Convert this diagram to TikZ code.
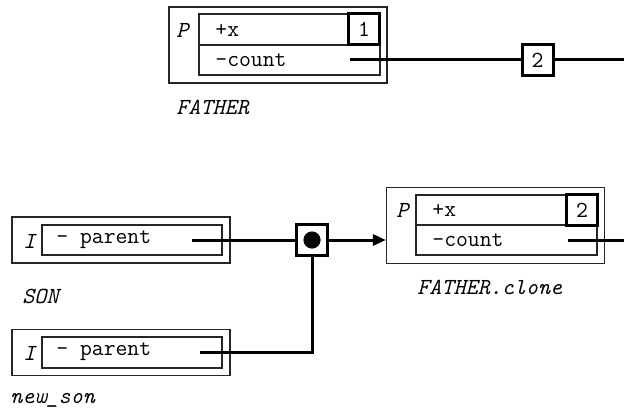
\documentclass[tikz,border=0pt]{standalone}
\usetikzlibrary{arrows.meta}
\tikzset{every node/.style={inner sep=0pt, font=\ttfamily\fontsize{11.5}{13}\selectfont},
  frame/.style={draw=black!85, line width=0.6pt},
  objframe/.style={frame, minimum width=109pt, minimum height=38pt},
  instframe/.style={frame, minimum width=109pt, minimum height=23pt},
  wire/.style={line width=1.5pt},
  numbox/.style={draw, line width=1.5pt, fill=white, minimum width=15.5pt, minimum height=15.5pt},
  txt/.style={anchor=west},
  lbl/.style={anchor=west, font=\ttfamily\itshape\fontsize{11.5}{13}\selectfont}}

\begin{document}
\begin{tikzpicture}[x=0.5pt,y=-0.5pt]
  \useasboundingbox (0,0) rectangle (624,411);

  % FATHER
  \node[objframe] (father) at (278,45) {};
  \draw[frame] (199,14) rectangle (380,75);
  \draw[frame] (199,45) -- (380,45);
  \node[lbl] (fP) at (176,30) {P};
  \node[txt] (fx) at (215,30) {+x};
  \node[txt] (fcount) at (215,60) {-count};
  \node[numbox] (fone) at (364,29.5) {1};
  \node[lbl] (fname) at (176,107) {FATHER};
  \coordinate (fcnt) at (350,60);
  \coordinate (fend) at (624,60);
  \node[numbox] (ftwo) at (537.5,60) {2};
  \draw[wire] (fcnt) -- (ftwo) -- (fend);

  % FATHER.clone
  \node[objframe] (clone) at (495.5,225.5) {};
  \draw[frame] (416,195) rectangle (597,255);
  \draw[frame] (416,225) -- (597,225);
  \node[lbl] (cP) at (396,210) {P};
  \node[txt] (cx) at (432,210) {+x};
  \node[txt] (ccount) at (432,240) {-count};
  \node[numbox] (ctwo) at (582,210) {2};
  \node[lbl] (cname) at (417,287) {FATHER.clone};
  \coordinate (ccnt) at (568,240);
  \coordinate (cend) at (624,240);
  \draw[wire] (ccnt) -- (cend);

  % SON
  \node[instframe] (son) at (121,240) {};
  \draw[frame] (42,225) rectangle (222,255);
  \node[lbl] (sI) at (23,241) {I};
  \node[txt] (spar) at (56,240) {- parent};
  \node[lbl] (sname) at (22,296) {SON};
  \coordinate (sp) at (192,240);

  % new_son
  \node[instframe] (nson) at (121,352.5) {};
  \draw[frame] (42,337) rectangle (222,368);
  \node[lbl] (nI) at (23,353) {I};
  \node[txt] (npar) at (56,352) {- parent};
  \node[lbl] (nname) at (10,400) {new\_son};
  \coordinate (np) at (200,352);

  % junction
  \node[numbox] (junc) at (312,240) {};
  \fill (junc.center) circle (4.3pt);
  \draw[wire] (sp) -- (junc);
  \draw[wire] (np) -| (junc);
  \draw[wire,-{Triangle[length=6.5pt,width=5.5pt]}] (junc) -- (junc -| clone.west);
\end{tikzpicture}
\end{document}
